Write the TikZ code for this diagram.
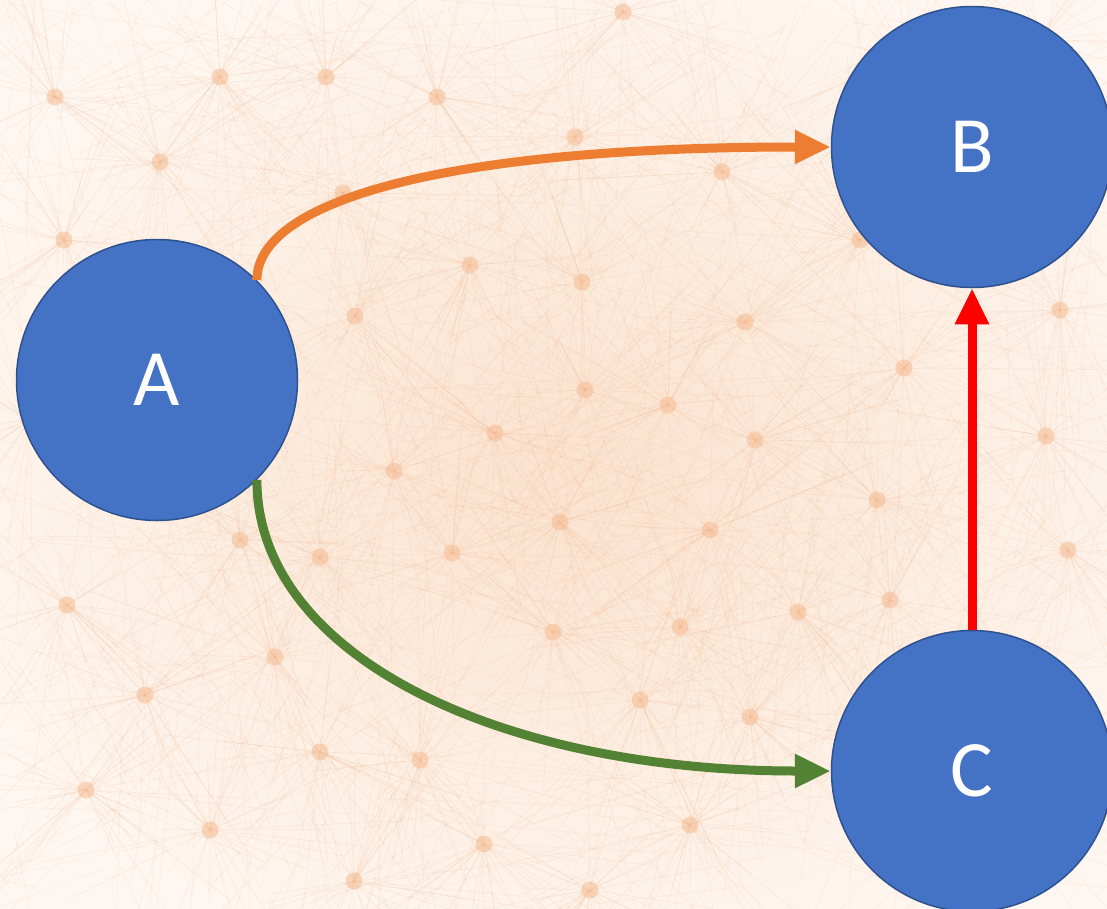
\documentclass[tikz,border=0pt]{standalone}
\usepackage{fontspec}
\setmainfont{Carlito}
\usetikzlibrary{arrows.meta}
\definecolor{nodeblue}{HTML}{4472C4}
\definecolor{nodeedge}{HTML}{2F528F}
\definecolor{arrorange}{HTML}{ED7D31}
\definecolor{arrgreen}{HTML}{548235}
\definecolor{arrred}{HTML}{FF0000}
\definecolor{peach}{HTML}{FBE3CF}
\definecolor{netline}{HTML}{F4B183}
\definecolor{netdot}{HTML}{F5BD94}
\tikzset{
  vertex/.style={circle, fill=nodeblue, draw=nodeedge, line width=1.5pt,
    inner sep=0pt, minimum size=281pt, text=white,
    font=\fontsize{80}{80}\selectfont},
  link/.style={line width=9pt, -{Triangle[length=36pt,width=32pt]}},
  netray/.style={netline, opacity=0.18, line width=0.6pt},
  netcross/.style={netline, opacity=0.14, line width=0.6pt}
}
\begin{document}
\begin{tikzpicture}[x=1pt,y=-1pt]
\useasboundingbox (0,0) rectangle (1107,908);
\begin{scope}
\clip (0,0) rectangle (1107,908);
\fill[white] (0,0) rectangle (1107,908);
\shade[inner color=peach, outer color=peach!30!white] (-100,-60) rectangle (1250,1000);
\pgfmathsetseed{11}
\foreach \k in {1,...,600}{
  \pgfmathsetmacro\sx{1107*rnd}
  \pgfmathsetmacro\sy{908*rnd}
  \pgfmathsetmacro\ang{360*rnd}
  \pgfmathsetmacro\len{150+350*rnd}
  \draw[netcross] (\sx,\sy) -- ++(\ang:\len);
}
\foreach \px/\py in {55/97,160/162,220/77,326/77,437/97,575/137,623/12,722/172,343/193,64/240,
  355/316,470/265,582/282,745/322,904/368,1060/310,668/405,495/433,585/390,755/440,1046/436,
  394/471,560/522,710/530,877/500,1068/550,452/553,320/557,67/605,553/632,680/627,750/717,
  145/695,275/657,320/752,210/830,86/790,354/881,484/844,590/890,690/825,798/612,905/60,
  1040/40,860/240,30/420,240/540,640/700,890/600,420/760}{
  \foreach \j in {1,...,36}{
    \pgfmathsetmacro\ang{360*rnd}
    \pgfmathsetmacro\len{40+170*rnd}
    \draw[netray] (\px,\py) -- ++(\ang:\len);
  }
  \fill[netdot, opacity=0.55] (\px,\py) circle (8.5);
}
\end{scope}

\node[vertex] (A) at (157,380) {A};
\node[vertex] (B) at (972,147) {B};
\node[vertex] (C) at (972,771) {C};

\draw[link, arrorange] (A.45) .. controls +(0,-80) and +(-383,0) .. (B.west);
\draw[link, arrgreen] (A.-45) .. controls +(0,175) and +(-333,0) .. (C.west);
\draw[link, arrred] (C.north) -- (B.south);
\end{tikzpicture}
\end{document}
